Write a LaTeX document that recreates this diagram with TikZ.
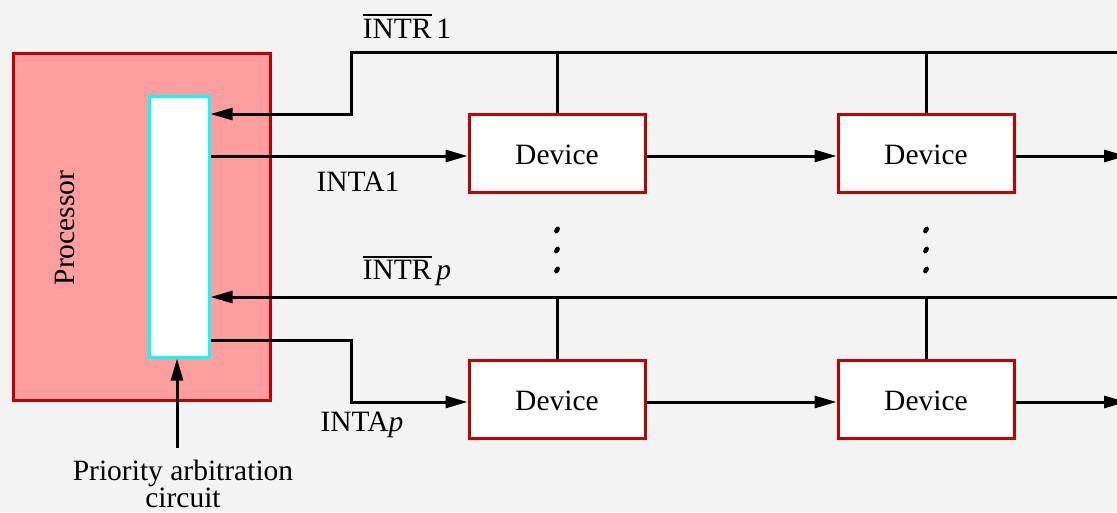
\documentclass[tikz,border=0pt]{standalone}
\usepackage{fontspec}
\setmainfont{Liberation Serif}
\usetikzlibrary{arrows.meta,positioning}
\definecolor{bgcol}{RGB}{243,243,243}
\definecolor{procfill}{RGB}{255,158,158}
\definecolor{boxred}{RGB}{192,0,0}
\definecolor{arbcyan}{RGB}{0,255,255}
\newcommand{\barsig}[1]{\leavevmode\vbox{\hrule height 2.4pt\kern 2.5pt\hbox{#1}}}
\begin{document}
\begin{tikzpicture}[x=1pt,y=-1pt,line width=3pt,>={Triangle[length=22pt,width=12pt]},font=\fontsize{29.5}{34}\selectfont,
	devbox/.style={draw=boxred,fill=white,line width=3pt,minimum width=176pt,minimum height=78pt,inner sep=0pt,text depth=0pt,text height=22pt},
	bus/.style={line width=3pt,black}]
	
	\clip (0,0) rectangle (1117,512);
	\fill[bgcol] (0,0) rectangle (1117,512);
	\node[draw=boxred,fill=procfill,minimum width=257pt,minimum height=347pt,inner sep=0pt] (proc) at (141.5,226.5) {};
	\node[rotate=90] (proclabel) at (65,228) {Processor};
	\node[draw=arbcyan,fill=white,minimum width=60pt,minimum height=261pt,inner sep=0pt] (arb) at (179,226.5) {};
	% Các thiết bị
	\node[devbox] (devA) at (557,153) {Device};
	\node[devbox] (devB) at (926,153) {Device};
	\node[devbox] (devC) at (557,399) {Device};
	\node[devbox] (devD) at (926,399) {Device};
	\coordinate (endA) at (1126,156);
	\coordinate (endC) at (1126,402);
	% Đường INTR 1
	\draw[bus,->] (1117,52) -- (351,52) -- (351,114) -- (arb.east|-0,114);
	\draw[bus] (devA.north) -- (devA.north|-0,52) (devB.north) -- (devB.north|-0,52);
	\draw[bus,->] (arb.east|-0,156) -- (devA.west|-0,156);
	\draw[bus,->] (devA.east|-0,156) -- (devB.west|-0,156);
	\draw[bus,->] (devB.east|-0,156) -- (endA);
	% Đường INTR p
	\draw[bus,->] (1117,297) -- (arb.east|-0,297);
	\draw[bus] (devC.north) -- (devC.north|-0,297) (devD.north) -- (devD.north|-0,297);
	\draw[bus,->] (arb.east|-0,340) -- (351,340) -- (351,402) -- (devC.west|-0,402);
	\draw[bus,->] (devC.east|-0,402) -- (devD.west|-0,402);
	\draw[bus,->] (devD.east|-0,402) -- (endC);
	\foreach \xx in {557,926}
		\foreach \yy in {230,250,270}
			\fill[rotate around={60:(\xx,\yy)}] (\xx,\yy) ellipse (3.8pt and 2.5pt);
	% Nhãn
	\node (lintr1) at (407,26) {\barsig{INTR}\,1};
	\node (linta1) at (358,182) {INTA1};
	\node (lintrp) at (407,271) {\barsig{INTR}\,\textit{p}};
	\node (lintap) at (362,425) {INTA\textit{p}};
	\node[align=center,font=\fontsize{29.5}{27}\selectfont] (lprio) at (183,484) {Priority arbitration\\circuit};
	\draw[bus,->] (177,448) -- (arb.south-|177,0);
\end{tikzpicture}
\end{document}
